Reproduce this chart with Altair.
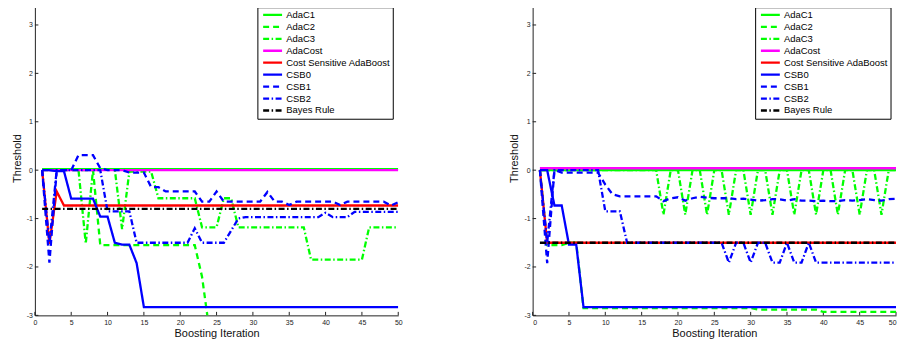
import altair as alt
import pandas as pd

# ---------------- data ----------------
iterations = list(range(1, 51))
x_ticks = [0, 5, 10, 15, 20, 25, 30, 35, 40, 45, 50]
y_ticks = [-3, -2, -1, 0, 1, 2, 3]

series_names = ["AdaC1", "AdaC2", "AdaC3", "AdaCost", "Cost Sensitive AdaBoost",
                "CSB0", "CSB1", "CSB2", "Bayes Rule"]
series_colors = ["#00ff00", "#00ff00", "#00ff00", "#ff00ff", "#ff0000",
                 "#0000ff", "#0000ff", "#0000ff", "#000000"]

# ---- left panel ----
left_AdaC1 = [0.02, 0.02, 0.02, 0.02, 0.02, 0.02, 0.02, 0.02, 0.02, 0.02,
              0.02, 0.02, 0.02, 0.02, 0.02, 0.02, 0.02, 0.02, 0.02, 0.02,
              0.02, 0.02, 0.02, 0.02, 0.02, 0.02, 0.02, 0.02, 0.02, 0.02,
              0.02, 0.02, 0.02, 0.02, 0.02, 0.02, 0.02, 0.02, 0.02, 0.02,
              0.02, 0.02, 0.02, 0.02, 0.02, 0.02, 0.02, 0.02, 0.02, 0.02]
left_AdaC2 = [0, 0, 0, 0, 0, 0, 0, 0, -1.55, -1.55,
              -1.55, -1.55, -1.55, -1.55, -1.55, -1.55, -1.55, -1.55, -1.55, -1.55,
              -1.55, -1.55, -2.2, -3.3, -3.3, -3.3, -3.3, -3.3, -3.3, -3.3,
              -3.3, -3.3, -3.3, -3.3, -3.3, -3.3, -3.3, -3.3, -3.3, -3.3,
              -3.3, -3.3, -3.3, -3.3, -3.3, -3.3, -3.3, -3.3, -3.3, -3.3]
left_AdaC3 = [0.01, 0.01, 0.01, 0.01, 0.01, 0.01, -1.52, 0.01, 0.01, 0.01,
              0.01, -1.22, -0.03, -0.03, -0.03, -0.03, -0.58, -0.58, -0.58, -0.58,
              -0.58, -0.58, -1.18, -1.18, -1.18, -0.58, -0.58, -1.18, -1.18, -1.18,
              -1.18, -1.18, -1.18, -1.18, -1.18, -1.18, -1.18, -1.85, -1.85, -1.85,
              -1.85, -1.85, -1.85, -1.85, -1.85, -1.18, -1.18, -1.18, -1.18, -1.18]
left_AdaCost = [0.0, 0.0, 0.0, 0.0, 0.0, 0.0, 0.0, 0.0, 0.0, 0.0,
                0.0, 0.0, 0.0, 0.0, 0.0, 0.0, 0.0, 0.0, 0.0, 0.0,
                0.0, 0.0, 0.0, 0.0, 0.0, 0.0, 0.0, 0.0, 0.0, 0.0,
                0.0, 0.0, 0.0, 0.0, 0.0, 0.0, 0.0, 0.0, 0.0, 0.0,
                0.0, 0.0, 0.0, 0.0, 0.0, 0.0, 0.0, 0.0, 0.0, 0.0]
left_CSAda = [0, -1.52, -0.44, -0.73, -0.73, -0.73, -0.73, -0.73, -0.73, -0.73,
              -0.73, -0.73, -0.73, -0.73, -0.73, -0.73, -0.73, -0.73, -0.73, -0.73,
              -0.73, -0.73, -0.73, -0.73, -0.73, -0.73, -0.73, -0.73, -0.73, -0.73,
              -0.73, -0.73, -0.73, -0.73, -0.73, -0.73, -0.73, -0.73, -0.73, -0.73,
              -0.73, -0.73, -0.73, -0.73, -0.73, -0.73, -0.73, -0.73, -0.73, -0.73]
left_CSB0 = [0, 0, -0.02, -0.02, -0.59, -0.59, -0.59, -0.59, -0.96, -0.96,
             -1.5, -1.54, -1.54, -1.92, -2.83, -2.83, -2.83, -2.83, -2.83, -2.83,
             -2.83, -2.83, -2.83, -2.83, -2.83, -2.83, -2.83, -2.83, -2.83, -2.83,
             -2.83, -2.83, -2.83, -2.83, -2.83, -2.83, -2.83, -2.83, -2.83, -2.83,
             -2.83, -2.83, -2.83, -2.83, -2.83, -2.83, -2.83, -2.83, -2.83, -2.83]
left_CSB1 = [0, -1.91, -0.02, 0.0, 0.0, 0.31, 0.31, 0.31, 0.04, 0.0,
             0.0, 0.0, -0.05, -0.05, -0.05, -0.35, -0.35, -0.44, -0.44, -0.44,
             -0.44, -0.44, -0.65, -0.65, -0.44, -0.65, -0.65, -0.65, -0.65, -0.65,
             -0.65, -0.45, -0.65, -0.65, -0.72, -0.65, -0.65, -0.65, -0.65, -0.65,
             -0.65, -0.72, -0.65, -0.65, -0.65, -0.65, -0.65, -0.65, -0.73, -0.66]
left_CSB2 = [0, -1.5, 0.0, 0.0, 0.0, 0.0, 0.0, 0.0, 0.0, -0.85,
             -0.85, -0.85, -0.85, -1.5, -1.5, -1.5, -1.5, -1.5, -1.5, -1.5,
             -1.5, -1.2, -1.5, -1.5, -1.5, -1.5, -1.25, -1.0, -0.97, -0.97,
             -0.97, -0.97, -0.97, -0.97, -0.97, -0.97, -0.97, -0.97, -0.97, -0.88,
             -0.97, -0.97, -0.97, -0.86, -0.86, -0.86, -0.86, -0.86, -0.86, -0.86]
left_Bayes = [-0.8, -0.8, -0.8, -0.8, -0.8, -0.8, -0.8, -0.8, -0.8, -0.8,
              -0.8, -0.8, -0.8, -0.8, -0.8, -0.8, -0.8, -0.8, -0.8, -0.8,
              -0.8, -0.8, -0.8, -0.8, -0.8, -0.8, -0.8, -0.8, -0.8, -0.8,
              -0.8, -0.8, -0.8, -0.8, -0.8, -0.8, -0.8, -0.8, -0.8, -0.8,
              -0.8, -0.8, -0.8, -0.8, -0.8, -0.8, -0.8, -0.8, -0.8, -0.8]

# ---- right panel ----
right_AdaC1 = [0.0, 0.0, 0.0, 0.0, 0.0, 0.0, 0.0, 0.0, 0.0, 0.0,
               0.0, 0.0, 0.0, 0.0, 0.0, 0.0, 0.0, 0.0, 0.0, 0.0,
               0.0, 0.0, 0.0, 0.0, 0.0, 0.0, 0.0, 0.0, 0.0, 0.0,
               0.0, 0.0, 0.0, 0.0, 0.0, 0.0, 0.0, 0.0, 0.0, 0.0,
               0.0, 0.0, 0.0, 0.0, 0.0, 0.0, 0.0, 0.0, 0.0, 0.0]
right_AdaC2 = [0, -1.55, -1.55, -1.55, -1.5, -1.5, -2.85, -2.85, -2.85, -2.85,
               -2.85, -2.85, -2.85, -2.85, -2.85, -2.85, -2.85, -2.85, -2.85, -2.85,
               -2.85, -2.85, -2.85, -2.85, -2.85, -2.85, -2.85, -2.85, -2.85, -2.85,
               -2.88, -2.88, -2.88, -2.88, -2.88, -2.88, -2.88, -2.88, -2.88, -2.93,
               -2.93, -2.93, -2.93, -2.93, -2.93, -2.93, -2.93, -2.93, -2.93, -2.93]
right_AdaC3 = [0.0, 0.0, 0.0, 0.0, 0.0, 0.0, 0.0, 0.0, 0.0, 0.0,
               0.0, 0.0, 0.0, 0.0, 0.0, 0.0, 0.0, -0.92, 0.0, 0.0,
               -0.92, 0.0, 0.0, -0.92, 0.0, 0.0, -0.92, 0.0, 0.0, -0.92,
               0.0, 0.0, -0.92, 0.0, 0.0, -0.92, 0.0, 0.0, -0.92, 0.0,
               0.0, -0.92, 0.0, 0.0, -0.92, 0.0, 0.0, -0.92, 0.0, 0.0]
right_AdaCost = [0.04, 0.04, 0.04, 0.04, 0.04, 0.04, 0.04, 0.04, 0.04, 0.04,
                 0.04, 0.04, 0.04, 0.04, 0.04, 0.04, 0.04, 0.04, 0.04, 0.04,
                 0.04, 0.04, 0.04, 0.04, 0.04, 0.04, 0.04, 0.04, 0.04, 0.04,
                 0.04, 0.04, 0.04, 0.04, 0.04, 0.04, 0.04, 0.04, 0.04, 0.04,
                 0.04, 0.04, 0.04, 0.04, 0.04, 0.04, 0.04, 0.04, 0.04, 0.04]
right_CSAda = [0, -1.5, -1.5, -1.5, -1.5, -1.5, -1.5, -1.5, -1.5, -1.5,
               -1.5, -1.5, -1.5, -1.5, -1.5, -1.5, -1.5, -1.5, -1.5, -1.5,
               -1.5, -1.5, -1.5, -1.5, -1.5, -1.5, -1.5, -1.5, -1.5, -1.5,
               -1.5, -1.5, -1.5, -1.5, -1.5, -1.5, -1.5, -1.5, -1.5, -1.5,
               -1.5, -1.5, -1.5, -1.5, -1.5, -1.5, -1.5, -1.5, -1.5, -1.5]
right_CSB0 = [0, 0, -0.73, -0.73, -1.54, -1.54, -2.83, -2.83, -2.83, -2.83,
              -2.83, -2.83, -2.83, -2.83, -2.83, -2.83, -2.83, -2.83, -2.83, -2.83,
              -2.83, -2.83, -2.83, -2.83, -2.83, -2.83, -2.83, -2.83, -2.83, -2.83,
              -2.83, -2.83, -2.83, -2.83, -2.83, -2.83, -2.83, -2.83, -2.83, -2.83,
              -2.83, -2.83, -2.83, -2.83, -2.83, -2.83, -2.83, -2.83, -2.83, -2.83]
right_CSB1 = [0, -1.92, 0.0, -0.05, -0.05, -0.05, -0.05, -0.05, -0.05, -0.3,
              -0.5, -0.54, -0.54, -0.54, -0.54, -0.54, -0.54, -0.64, -0.58, -0.56,
              -0.63, -0.58, -0.55, -0.57, -0.58, -0.58, -0.58, -0.6, -0.59, -0.61,
              -0.63, -0.62, -0.6, -0.6, -0.63, -0.6, -0.63, -0.63, -0.64, -0.63,
              -0.64, -0.64, -0.62, -0.63, -0.62, -0.6, -0.62, -0.63, -0.6, -0.59]
right_CSB2 = [0, -1.5, 0.0, 0.0, 0.0, 0.0, 0.0, 0.0, 0.0, -0.85,
              -0.85, -0.85, -1.5, -1.5, -1.5, -1.5, -1.5, -1.5, -1.5, -1.5,
              -1.5, -1.5, -1.5, -1.5, -1.5, -1.5, -1.91, -1.5, -1.5, -1.91,
              -1.5, -1.5, -1.91, -1.91, -1.5, -1.91, -1.91, -1.5, -1.91, -1.91,
              -1.91, -1.91, -1.91, -1.91, -1.91, -1.91, -1.91, -1.91, -1.91, -1.91]
right_Bayes = [-1.5, -1.5, -1.5, -1.5, -1.5, -1.5, -1.5, -1.5, -1.5, -1.5,
               -1.5, -1.5, -1.5, -1.5, -1.5, -1.5, -1.5, -1.5, -1.5, -1.5,
               -1.5, -1.5, -1.5, -1.5, -1.5, -1.5, -1.5, -1.5, -1.5, -1.5,
               -1.5, -1.5, -1.5, -1.5, -1.5, -1.5, -1.5, -1.5, -1.5, -1.5,
               -1.5, -1.5, -1.5, -1.5, -1.5, -1.5, -1.5, -1.5, -1.5, -1.5]

left_values = [left_AdaC1, left_AdaC2, left_AdaC3, left_AdaCost, left_CSAda,
               left_CSB0, left_CSB1, left_CSB2, left_Bayes]
right_values = [right_AdaC1, right_AdaC2, right_AdaC3, right_AdaCost, right_CSAda,
                right_CSB0, right_CSB1, right_CSB2, right_Bayes]

# ---------------- styling ----------------
FONT = "Liberation Sans"
SOLID = [1, 0]
DASH = [6, 4]
DASHDOT = [6, 2.5, 1.5, 2.5]
series_dashes = [SOLID, DASH, DASHDOT, SOLID, SOLID, SOLID, DASH, DASHDOT, DASHDOT]

W, H = 365, 316


def make_panel(values, flush_last):
    rows = []
    for name, vals in zip(series_names, values):
        for it, v in zip(iterations, vals):
            rows.append({"x": it, "y": v, "series": name})
    df = pd.DataFrame(rows)

    xs = alt.Scale(domain=[0, 50], nice=False, zero=False)
    ys = alt.Scale(domain=[-3, 3.5], nice=False, zero=False)
    xaxis = alt.Axis(values=x_ticks, title="Boosting Iteration", grid=False, ticks=False,
                     labelFontSize=7, labelFont=FONT, labelColor="#222", labelPadding=3,
                     labelFlush=flush_last, titleFont=FONT, titleFontSize=11,
                     titleFontWeight="normal", titleColor="#111", titlePadding=2,
                     domainColor="#222", domainWidth=1)
    yaxis = alt.Axis(values=y_ticks, title="Threshold", grid=False, ticks=False,
                     labelFontSize=7, labelFont=FONT, labelColor="#222", labelPadding=2.5,
                     labelExpr="'' + datum.value",
                     titleFont=FONT, titleFontSize=11, titleFontWeight="normal",
                     titleColor="#111", titlePadding=4, domainColor="#222", domainWidth=1)
    legend = alt.Legend(title=None, orient="none", legendX=223.5, legendY=6.5,
                        symbolType="stroke", symbolSize=361, symbolStrokeWidth=2.3,
                        labelFontSize=9.5, labelFont=FONT, labelColor="#000",
                        labelLimit=0, labelOffset=2.7, symbolOffset=2.3,
                        strokeColor="#000", fillColor="#fff", padding=2,
                        rowPadding=0, clipHeight=11.43)

    color_scale = alt.Scale(domain=series_names, range=series_colors)
    dash_scale = alt.Scale(domain=series_names, range=series_dashes)

    ytick_df = pd.DataFrame({"y": y_ticks})
    xtick_df = pd.DataFrame({"x": x_ticks})
    layers = [
        alt.Chart(ytick_df).mark_rule(color="#222", strokeWidth=1).encode(
            y=alt.Y("y:Q", scale=ys, axis=yaxis), x=alt.value(0), x2=alt.value(3.5)),
        alt.Chart(xtick_df).mark_rule(color="#222", strokeWidth=1).encode(
            x=alt.X("x:Q", scale=xs, axis=xaxis), y=alt.value(H), y2=alt.value(H - 3.5)),
    ]
    for name in series_names:
        layers.append(
            alt.Chart(df).transform_filter(alt.datum.series == name)
            .mark_line(clip=True, strokeWidth=2.3)
            .encode(
                x=alt.X("x:Q", scale=xs, axis=xaxis),
                y=alt.Y("y:Q", scale=ys, axis=yaxis),
                color=alt.Color("series:N", scale=color_scale, legend=legend),
                strokeDash=alt.StrokeDash("series:N", scale=dash_scale, legend=legend),
            )
        )
    return alt.layer(*layers).properties(width=W, height=H)


left = make_panel(left_values, False)
right = make_panel(right_values, True)

chart = (
    alt.hconcat(left, right, spacing=107)
    .resolve_scale(color="independent", strokeDash="independent")
    .resolve_legend(color="independent", strokeDash="independent")
    .properties(padding={"left": 3, "top": -8, "right": 0, "bottom": 0},
                background="white")
    .configure_view(stroke=None)
)

chart.save("out.html", embed_options={"renderer": "svg", "actions": False})
